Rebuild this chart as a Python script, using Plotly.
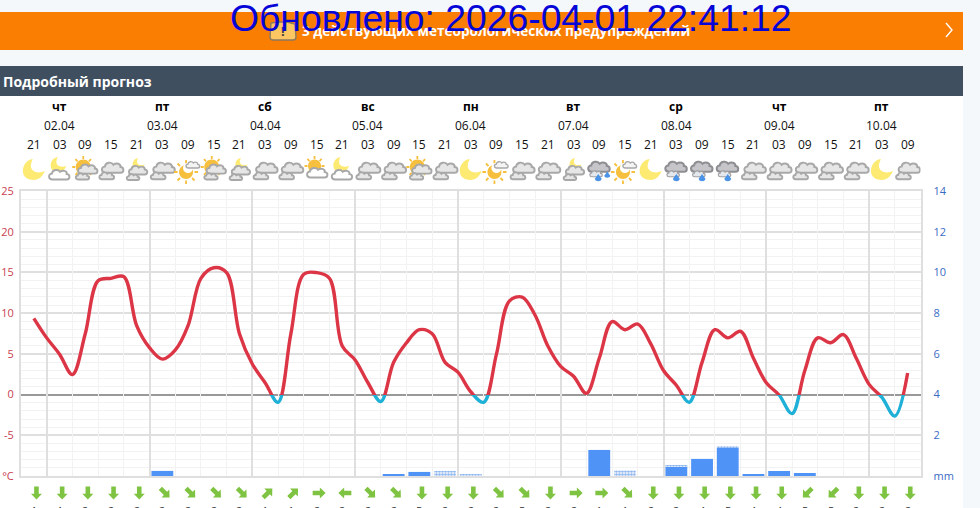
import math
import plotly.graph_objects as go

W, H = 980, 508
# ---------- data ----------
hours = ["21","03","09","15"] * 8 + ["21","03","09"]
day_names = ["чт","пт","сб","вс","пн","вт","ср","чт","пт"]
day_dates = ["02.04","03.04","04.04","05.04","06.04","07.04","08.04","09.04","10.04"]
day_cols = [1,5,9,13,17,21,25,29,33]
temp = [9.4,7.0,5.0,2.5,7.5,14.0,14.3,14.5,8.5,5.8,4.4,5.5,8.5,14.3,15.6,15.0,7.5,3.8,1.5,-0.9,
        7.5,14.8,15.0,14.3,6.0,4.3,1.5,-0.8,4.0,6.4,8.0,7.5,4.0,2.8,0.4,-0.9,5.0,11.5,12.0,9.8,
        6.0,3.5,2.3,0.2,4.5,9.0,8.0,8.7,6.3,3.0,1.2,-0.9,4.0,8.0,7.0,7.8,4.5,1.5,0.0,-2.3,3.0,
        7.0,6.4,7.4,4.5,1.3,-0.3,-2.6,2.7]
rain_cols = [5,14,15,22,25,26,27,28,29,30]
rain_vals = [0.25,0.05,0.2,1.28,0.48,0.84,1.38,0.05,0.25,0.15]
snow_cols = [16,17,23,25,27]
snow_vals = [0.25,0.1,0.27,0.05,0.05]
snow_base = [0,0,0,0.48,1.38]
wind_dir = ["S"]*5 + ["SE"]*4 + ["NE","NE","E","W","SE","SE","S","S","S","SE","SE","S","E","E","SE"] + ["S"]*6 + ["SW","SW","S","S","S"]
wind_speed = [1,1,2,2,2,2,2,2,2,1,1,2,2,2,2,5,2,2,2,5,2,2,1,1,2,2,4,5,4,4,5,5,2,2,2]
icons = ["moon","moonc","sunc","cl","moons","cl","sunm","sunc","moons","cl","cl","sunw","moonc","cl","cl","sunc","cl","moon",
         "sunm","cl","cl","moons","rain2","sunm","moon","rain","rain","rain","cl","cl","cl","cl","cl","moon","cl"]
temp_ticks = [-10,-5,0,5,10,15,20,25]
temp_labels = ["°C","-5","0","5","10","15","20","25"]
mm_ticks = [0,2,4,6,8,10,12,14]
mm_labels = ["mm","2","4","6","8","10","12","14"]
title_text = "Обновлено: 2026-04-01 22:41:12"
warn_text = "3 действующих метеорологических предупреждений"
head_text = "Подробный прогноз"

# ---------- layout constants ----------
px = lambda y: 1 - y / H
X0, X1 = 21, 920.5
Y_TOP, Y_ZERO, Y_BOT = 191, 395, 476
RED, CYAN = "#dc3545", "#1fb0d8"
temp_x = [i / 2 for i in range(len(temp))]

fig = go.Figure()
fig.add_trace(go.Scatter(x=temp_x, y=temp, mode="lines", opacity=0, line=dict(width=0), xaxis="x", yaxis="y", showlegend=False, hoverinfo="skip"))
fig.add_trace(go.Bar(x=rain_cols, y=rain_vals, width=0.85, marker=dict(color="#5093f6", line_width=0), xaxis="x", yaxis="y2", showlegend=False))
fig.add_trace(go.Bar(x=snow_cols, y=snow_vals, base=snow_base, width=0.85,
                     marker=dict(color="white", line_width=0, pattern=dict(shape=".", fgcolor="#1c6be0", bgcolor="white", size=3, solidity=0.6)),
                     xaxis="x", yaxis="y2", showlegend=False))
line = dict(shape="spline", smoothing=1.0, width=3.4)
fig.add_trace(go.Scatter(x=temp_x, y=temp, mode="lines", line=dict(color=CYAN, **line), xaxis="x", yaxis="y4", showlegend=False))
fig.add_trace(go.Scatter(x=temp_x, y=temp, mode="lines", line=dict(color=RED, **line), xaxis="x", yaxis="y3", showlegend=False))

shapes = []
def rect(x0, y0, x1, y1, c):
    shapes.append(dict(type="rect", xref="paper", yref="paper", x0=x0/W, x1=x1/W, y0=px(y1), y1=px(y0), fillcolor=c, line_width=0, layer="below"))
rect(0, 0, W, H, "#f5f8fb")
rect(0, 96, 963, H, "#ffffff")
rect(0, 12, 963, 50, "#f97e02")
rect(0, 66, 963, 96, "#3f4f5f")

def blob(segs, s, dx, dy):
    out = []
    for c, pts in segs:
        out.append(c + " " + " ".join(f"{x*s+dx:.2f},{y*s+dy:.2f}" for x, y in pts))
    return " ".join(out) + " Z"
CLOUD = [("M",[(-8,-5)]),("C",[(-12.5,-5),(-13,1.5),(-8.5,1.5)]),("C",[(-8,6),(-1.5,7),(0.5,3.5)]),("C",[(3.5,6),(8.5,4.5),(8,1)]),("C",[(12,1),(12,-5),(8,-5)])]
MOON = [("M",[(-1,11)]),("C",[(-8,10),(-11,4),(-11,-1)]),("C",[(-11,-7),(-6,-10),(0,-10)]),("C",[(5,-10),(9,-6),(11,-1)]),("C",[(5,-4),(-3,-2),(-3,4)]),("C",[(-3,7),(-2,9),(-1,11)])]
DROP = [("M",[(0,3.5)]),("L",[(2.8,-0.5)]),("C",[(3.5,-3.5),(-3.5,-3.5),(-2.8,-0.5)])]
def circle(r, dx, dy):
    k = 0.552 * r
    return f"M {dx-r},{dy} C {dx-r},{dy+k} {dx-k},{dy+r} {dx},{dy+r} C {dx+k},{dy+r} {dx+r},{dy+k} {dx+r},{dy} C {dx+r},{dy-k} {dx+k},{dy-r} {dx},{dy-r} C {dx-k},{dy-r} {dx-r},{dy-k} {dx-r},{dy} Z"
def rays(r0, r1, dx, dy, n=8):
    out = []
    for i in range(n):
        a = math.radians(360*i/n)
        out.append(f"M {dx+r0*math.cos(a):.2f},{dy+r0*math.sin(a):.2f} L {dx+r1*math.cos(a):.2f},{dy+r1*math.sin(a):.2f}")
    return " ".join(out)
def anchored(col, yp, path, fill=None, lc=None, lw=0):
    d = dict(type="path", xref="x", yref="paper", xsizemode="pixel", ysizemode="pixel", xanchor=col, yanchor=px(yp), path=path, layer="above")
    d["fillcolor"] = fill if fill else "rgba(0,0,0,0)"
    d["line"] = dict(color=lc if lc else "rgba(0,0,0,0)", width=lw)
    shapes.append(d)

GR, GF = "#a8a8a8", "#e6e6e6"
YEL, SUN = "#fdea73", "#f6bf3d"
def cloud(c, s, dx, dy, fill=GF, lc=GR, lw=1.9):
    anchored(c, 171, blob(CLOUD, s, dx, dy), fill, lc, lw)
def two_clouds(c, s=1.0, dx=0, dy=0, fill=GF, lc=GR):
    cloud(c, 0.95*s, 2*s+dx, 3*s+dy, fill, lc)
    cloud(c, 0.65*s, -4*s+dx, -5*s+dy, fill, lc)

for c, kind in enumerate(icons):
    if kind == "moon":
        anchored(c, 170, blob(MOON, 1, 0, 0), YEL)
    elif kind == "cl":
        two_clouds(c)
    elif kind == "moonc":
        anchored(c, 171, blob(MOON, 0.72, -1, 6), YEL)
        cloud(c, 0.9, 0, -4, "#ffffff", GR)
    elif kind == "moons":
        anchored(c, 171, blob(MOON, 0.55, 2, 7), YEL)
        two_clouds(c, 0.85, 0, -2)
    elif kind == "sunc":
        anchored(c, 171, rays(8, 11, -2, 4), None, SUN, 1.8)
        anchored(c, 171, circle(7.5, -2, 4), SUN)
        two_clouds(c, 0.9, 1, -1)
    elif kind == "sunw":
        anchored(c, 171, rays(7, 10, -2, 5), None, SUN, 1.8)
        anchored(c, 171, circle(6.5, -2, 5), SUN)
        cloud(c, 0.9, 1, -2, "#ffffff", GR)
    elif kind == "sunm":
        anchored(c, 171, rays(8.5, 12, -2, -1), None, SUN, 1.8)
        anchored(c, 171, circle(7, -2, -1), SUN)
        anchored(c, 171, circle(5, 0, 3), "#ffffff")
        cloud(c, 0.6, 5, 6, "#f4f4f4", GR, 1.4)
    elif kind in ("rain", "rain2"):
        cloud(c, 0.95, 0, 4, "#c6c6ca", "#8e8e92", 2)
        cloud(c, 0.55, -3, -3, "#e4e8ec", "#a0a0a4", 1.2)
        anchored(c, 176, blob(DROP, 1.15, -1 if kind == "rain2" else 0, -2), "#4b93e6")
        if kind == "rain2":
            anchored(c, 176, blob(DROP, 1.0, 8, 1), "#4b93e6")

ARROW = [(0,-6.5),(5.5,-0.7),(2.3,-0.7),(2.3,6.5),(-2.3,6.5),(-2.3,-0.7),(-5.5,-0.7)]
ROT = {"S":0,"SE":45,"E":90,"NE":135,"N":180,"NW":225,"W":270,"SW":315}
for c, d in enumerate(wind_dir):
    a = math.radians(ROT[d])
    p = [(x*math.cos(a)-y*math.sin(a)+2.6, x*math.sin(a)+y*math.cos(a)) for x, y in ARROW]
    anchored(c, 493, "M " + " L ".join(f"{x:.2f},{y:.2f}" for x, y in p) + " Z", "#7fc342")

# warning icon and chevron
def page_path(xp, yp, path, fill=None, lc=None, lw=0):
    shapes.append(dict(type="path", xref="paper", yref="paper", xsizemode="pixel", ysizemode="pixel", xanchor=xp/W, yanchor=px(yp), path=path,
                       fillcolor=fill if fill else "rgba(0,0,0,0)", line=dict(color=lc if lc else "rgba(0,0,0,0)", width=lw), layer="above"))
page_path(283, 31, "M -12,8 L -4,9 L 4,9 L 12,7 L 13,-6 C 13,-8 12,-9 10,-9 L -10,-9 C -12,-9 -13,-8 -13,-6 Z", "#fcc763", "#8a7a60", 1.4)
page_path(949, 30, "M -3,7 L 3,0 L -3,-7", None, "#ffffff", 1.4)

anns = []
def note(x, y, t, size=12, color="#000", bold=False, xref="x", xanchor="center", fam="Open Sans"):
    anns.append(dict(x=x, y=px(y), xref=xref, yref="paper", text=f"<b>{t}</b>" if bold else t, showarrow=False,
                     xanchor=xanchor, yanchor="middle", font=dict(family=fam, size=size, color=color)))
for c, n, d in zip(day_cols, day_names, day_dates):
    note(c, 107, n, 12, "#000", True)
    note(c, 125, d, 12, "#111")
for c, h in enumerate(hours):
    note(c, 145, h, 12, "#111")
for c, s in enumerate(wind_speed):
    note(c, 510, str(s), 11, "#333")
note(1/W, 82, head_text, 14, "#fff", True, "paper", "left")
note(283/W, 31, "!", 13, "#3a3a3a", True, "paper", "center")
note(496/W, 30, warn_text, 13.6, "#fff", True, "paper", "center")
note(511/W, 18, title_text, 37.3, "#0505d8", False, "paper", "center", "Liberation Sans")

GRID = "#dfdfdf"
MINOR = "#f2f2f2"
fig.update_layout(
    width=W, height=H, margin=dict(l=0, r=0, t=0, b=0, pad=0), autosize=False,
    paper_bgcolor="#ffffff", plot_bgcolor="rgba(0,0,0,0)", showlegend=False, barmode="overlay",
    font=dict(family="Open Sans"), shapes=shapes, annotations=anns,
    xaxis=dict(domain=[X0/W, X1/W], range=[-0.5, 34.5], tick0=0.5, dtick=4, showticklabels=False, ticks="", automargin=False,
               showgrid=True, gridcolor=GRID, gridwidth=2, zeroline=False, anchor="y",
               showline=True, linecolor=GRID, linewidth=2, mirror=True,
               minor=dict(tick0=0.5, dtick=1, showgrid=True, gridcolor=MINOR, gridwidth=1, ticks="")),
    yaxis=dict(domain=[px(Y_BOT), px(Y_TOP)], range=[-10, 25], tickmode="array", tickvals=temp_ticks, ticktext=temp_labels, automargin=False,
               tickfont=dict(size=11, color="#c9404f"), ticks="", ticklabelstandoff=3, anchor="x",
               showgrid=True, gridcolor=GRID, gridwidth=2, zeroline=True, zerolinecolor="#999999", zerolinewidth=2,
               showline=True, linecolor=GRID, linewidth=2, mirror=True,
               minor=dict(tick0=0, dtick=1, showgrid=True, gridcolor=MINOR, gridwidth=1, ticks="")),
    yaxis2=dict(overlaying="y", side="right", range=[0, 14], tickmode="array", tickvals=mm_ticks, ticktext=mm_labels, automargin=False,
                tickfont=dict(size=11, color="#3b6cc4"), ticks="", ticklabelstandoff=12, showgrid=False, zeroline=False, anchor="x"),
    yaxis3=dict(domain=[px(Y_ZERO), px(Y_TOP)], range=[0, 25], visible=False, anchor="x", automargin=False),
    yaxis4=dict(domain=[px(Y_BOT), px(Y_ZERO)], range=[-10, 0], visible=False, anchor="x", automargin=False),
)
fig.write_html("out.html", config=dict(displayModeBar=False), post_script="document.body.style.margin='0';document.body.style.overflow='hidden';")
